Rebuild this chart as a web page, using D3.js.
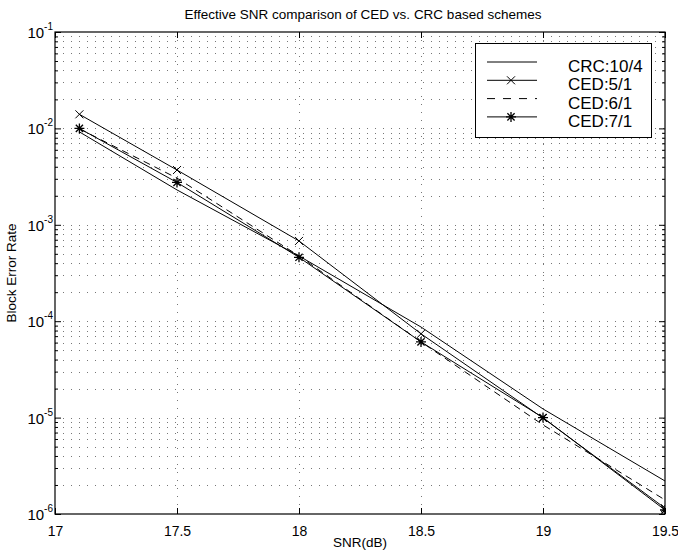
<!DOCTYPE html>
<html>
<head>
<meta charset="utf-8">
<script src="https://cdn.jsdelivr.net/npm/d3@7"></script>
<style>
  html, body { margin: 0; padding: 0; background: #fff; }
</style>
</head>
<body>
<div id="chart-container"></div>
<script>
// Data
const snr = [17.1, 17.5, 18, 18.5, 19, 19.5];
const crc104 = [9.2e-3, 2.3e-3, 4.75e-4, 8.7e-5, 1.23e-5, 2.2e-6];
const ced51 = [1.4e-2, 3.7e-3, 6.8e-4, 7.4e-5, 9.9e-6, 1.15e-6];
const ced61 = [9.9e-3, 3.05e-3, 4.75e-4, 6.1e-5, 8.4e-6, 1.4e-6];
const ced71 = [1.0e-2, 2.75e-3, 4.6e-4, 6.1e-5, 1.0e-5, 1.1e-6];

const xTicks = [17, 17.5, 18, 18.5, 19, 19.5];
const yExponents = [-6, -5, -4, -3, -2, -1];

const series = [
    { name: "CRC:10/4", values: crc104, dash: null, marker: null },
    { name: "CED:5/1", values: ced51, dash: null, marker: "x" },
    { name: "CED:6/1", values: ced61, dash: "7,5", marker: null },
    { name: "CED:7/1", values: ced71, dash: null, marker: "star" }
];

// Size
const width = 678;
const height = 551;
const margin = { top: 32, right: 13, bottom: 37, left: 55 };
const font = "'Liberation Sans', Arial, Helvetica, sans-serif";

const svg = d3.select("#chart-container")
    .append("svg")
    .attr("width", width)
    .attr("height", height)
    .style("font-family", font);

// Scales
const x = d3.scaleLinear()
    .domain([17, 19.5])
    .range([margin.left, width - margin.right]);

const y = d3.scaleLog()
    .domain([1e-6, 1e-1])
    .range([height - margin.bottom, margin.top]);

const x0 = x.range()[0], x1 = x.range()[1];
const yTop = y.range()[1], yBot = y.range()[0];

// Grid lines (dotted): major and minor on y, majors on x
const yGrid = [];
yExponents.slice(0, -1).forEach(e => {
    for (let m = 1; m <= 9; m++) {
        const v = m * Math.pow(10, e);
        if (v > 1e-6) yGrid.push(v);
    }
});

svg.append("g")
    .selectAll("line")
    .data(yGrid)
    .join("line")
    .attr("x1", x0)
    .attr("x2", x1)
    .attr("y1", d => Math.round(y(d)) + 0.5)
    .attr("y2", d => Math.round(y(d)) + 0.5)
    .attr("stroke", "#777")
    .attr("stroke-dasharray", "1,7");

svg.append("g")
    .selectAll("line")
    .data(xTicks.slice(1, -1))
    .join("line")
    .attr("x1", d => Math.round(x(d)) + 0.5)
    .attr("x2", d => Math.round(x(d)) + 0.5)
    .attr("y1", yTop)
    .attr("y2", yBot)
    .attr("stroke", "#777")
    .attr("stroke-dasharray", "1,7");

// Axes with inward ticks
const minorY = yGrid.filter(d => !yExponents.some(e => Math.abs(d - Math.pow(10, e)) < 1e-12));

svg.append("g")
    .attr("transform", `translate(0,${yBot})`)
    .call(d3.axisBottom(x).tickValues(xTicks).tickSizeInner(-6).tickSizeOuter(0).tickPadding(12).tickFormat(d3.format("")))
    .call(g => g.selectAll("text").style("font-size", "14px").attr("fill", "#000").style("font-family", font));

svg.append("g")
    .attr("transform", `translate(0,${yTop})`)
    .call(d3.axisTop(x).tickValues(xTicks).tickSizeInner(-6).tickSizeOuter(0).tickFormat(""));

svg.append("g")
    .attr("transform", `translate(${x0},0)`)
    .call(d3.axisLeft(y).tickValues(yExponents.map(e => Math.pow(10, e))).tickSizeInner(-6).tickSizeOuter(0).tickFormat(""));

svg.append("g")
    .attr("transform", `translate(${x1},0)`)
    .call(d3.axisRight(y).tickValues(yExponents.map(e => Math.pow(10, e))).tickSizeInner(-6).tickSizeOuter(0).tickFormat(""));

svg.append("g")
    .attr("transform", `translate(${x0},0)`)
    .call(d3.axisLeft(y).tickValues(minorY).tickSizeInner(-3).tickSizeOuter(0).tickFormat(""));

svg.append("g")
    .attr("transform", `translate(${x1},0)`)
    .call(d3.axisRight(y).tickValues(minorY).tickSizeInner(-3).tickSizeOuter(0).tickFormat(""));

// y tick labels with superscript exponents
svg.append("g")
    .selectAll("text")
    .data(yExponents)
    .join("text")
    .attr("x", x0 - 2)
    .attr("y", e => y(Math.pow(10, e)) + 6)
    .attr("text-anchor", "end")
    .attr("fill", "#000")
    .style("font-size", "15px")
    .each(function (e) {
        const t = d3.select(this);
        t.append("tspan").text("10");
        t.append("tspan").attr("dy", -8).style("font-size", "10px").text(e);
    });

// Box
svg.append("rect")
    .attr("x", x0)
    .attr("y", yTop)
    .attr("width", x1 - x0)
    .attr("height", yBot - yTop)
    .attr("fill", "none")
    .attr("stroke", "#000")
    .attr("stroke-width", 1.2);

svg.selectAll(".domain").remove();
svg.selectAll(".tick line").attr("stroke", "#000");

// Lines
svg.append("clipPath").attr("id", "clip")
    .append("rect").attr("x", x0).attr("y", yTop).attr("width", x1 - x0).attr("height", yBot - yTop);

const line = d3.line()
    .x((d, i) => x(snr[i]))
    .y(d => y(d));

const plot = svg.append("g").attr("clip-path", "url(#clip)");

function drawMarker(g, type, cx, cy) {
    if (type === "x") {
        const r = 4;
        g.append("path")
            .attr("d", `M${cx - r},${cy - r}L${cx + r},${cy + r}M${cx - r},${cy + r}L${cx + r},${cy - r}`)
            .attr("stroke", "#000").attr("stroke-width", 1).attr("fill", "none");
    } else if (type === "star") {
        const r = 5, q = 3.6;
        g.append("path")
            .attr("d", `M${cx - r},${cy}L${cx + r},${cy}M${cx},${cy - r}L${cx},${cy + r}` +
                `M${cx - q},${cy - q}L${cx + q},${cy + q}M${cx - q},${cy + q}L${cx + q},${cy - q}`)
            .attr("stroke", "#000").attr("stroke-width", 1.3).attr("fill", "none");
    }
}

series.forEach(s => {
    plot.append("path")
        .datum(s.values)
        .attr("d", line)
        .attr("fill", "none")
        .attr("stroke", "#000")
        .attr("stroke-width", 1)
        .attr("stroke-dasharray", s.dash);
    if (s.marker) {
        s.values.forEach((v, i) => drawMarker(plot, s.marker, x(snr[i]), y(v)));
    }
});

// Legend
const legend = svg.append("g");
legend.append("rect")
    .attr("x", 475.5)
    .attr("y", 43.5)
    .attr("width", 176)
    .attr("height", 94)
    .attr("fill", "#fff")
    .attr("stroke", "#000")
    .attr("stroke-width", 1);

series.forEach((s, i) => {
    const ly = 62 + i * 18.3;
    legend.append("line")
        .attr("x1", 487).attr("x2", 537)
        .attr("y1", ly).attr("y2", ly)
        .attr("stroke", "#000")
        .attr("stroke-dasharray", s.dash ? "8,8" : null);
    if (s.marker) drawMarker(legend, s.marker, 511, ly);
    legend.append("text")
        .attr("x", 568)
        .attr("y", ly + 10)
        .style("font-size", "17px")
        .attr("fill", "#000")
        .text(s.name);
});

// Title and axis labels
svg.append("text")
    .attr("x", 363)
    .attr("y", 19)
    .attr("text-anchor", "middle")
    .style("font-size", "13.5px")
    .text("Effective SNR comparison of CED vs. CRC based schemes");

svg.append("text")
    .attr("x", 360)
    .attr("y", 547)
    .attr("text-anchor", "middle")
    .style("font-size", "13.5px")
    .text("SNR(dB)");

svg.append("text")
    .attr("transform", `translate(16,${(yTop + yBot) / 2}) rotate(-90)`)
    .attr("text-anchor", "middle")
    .style("font-size", "13.5px")
    .text("Block Error Rate");
</script>
</body>
</html>
